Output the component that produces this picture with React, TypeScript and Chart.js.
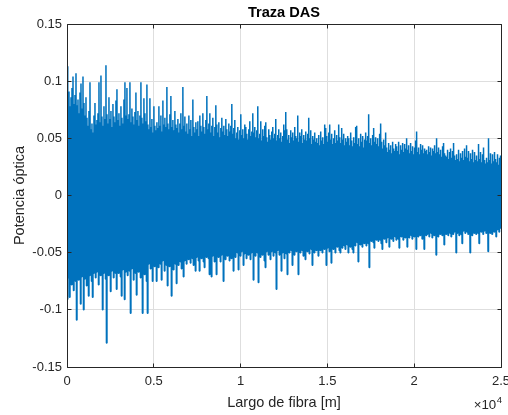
import { useEffect, useRef } from 'react';
import { Chart, registerables } from 'chart.js';

Chart.register(...registerables);

// Fibre length covered by the trace, metres
const FIBER_LENGTH_M = 25000;

const xTicks = [0, 5000, 10000, 15000, 20000, 25000];
const yTicks = [-0.15, -0.1, -0.05, 0, 0.05, 0.1, 0.15];

// Positive excursion of the DAS trace in each range bin
const crestas = [
  0.113, 0.082, 0.091, 0.078, 0.086, 0.094, 0.104, 0.08, 0.088, 0.107,
  0.079, 0.084, 0.072, 0.09, 0.098, 0.076, 0.104, 0.081, 0.07, 0.086,
  0.068, 0.061, 0.074, 0.099, 0.058, 0.063, 0.055, 0.07, 0.081, 0.062,
  0.066, 0.072, 0.099, 0.064, 0.105, 0.069, 0.061, 0.078, 0.067, 0.114,
  0.071, 0.063, 0.086, 0.067, 0.074, 0.06, 0.08, 0.069, 0.064, 0.083,
  0.093, 0.066, 0.072, 0.061, 0.078, 0.068, 0.063, 0.084, 0.099, 0.07,
  0.094, 0.067, 0.071, 0.099, 0.064, 0.076, 0.069, 0.062, 0.073, 0.09,
  0.066, 0.074, 0.061, 0.07, 0.099, 0.068, 0.063, 0.085, 0.072, 0.065,
  0.097, 0.062, 0.058, 0.085, 0.06, 0.067, 0.055, 0.078, 0.061, 0.057,
  0.064, 0.059, 0.078, 0.061, 0.07, 0.056, 0.083, 0.062, 0.068, 0.06,
  0.095, 0.063, 0.058, 0.071, 0.087, 0.06, 0.066, 0.057, 0.074, 0.062,
  0.059, 0.067, 0.055, 0.063, 0.072, 0.058, 0.095, 0.061, 0.069, 0.056,
  0.063, 0.054, 0.07, 0.058, 0.066, 0.052, 0.084, 0.06, 0.055, 0.064,
  0.058, 0.065, 0.052, 0.07, 0.061, 0.056, 0.072, 0.06, 0.054, 0.066,
  0.087, 0.058, 0.063, 0.072, 0.055, 0.061, 0.068, 0.052, 0.06, 0.079,
  0.062, 0.055, 0.064, 0.051, 0.059, 0.068, 0.056, 0.061, 0.053, 0.067,
  0.058, 0.052, 0.063, 0.056, 0.061, 0.08, 0.054, 0.059, 0.066, 0.05,
  0.055, 0.06, 0.049, 0.057, 0.071, 0.053, 0.058, 0.05, 0.062, 0.06,
  0.054, 0.049, 0.058, 0.065, 0.052, 0.056, 0.072, 0.055, 0.06, 0.051,
  0.057, 0.078, 0.05, 0.054, 0.065, 0.048, 0.058, 0.052, 0.061, 0.064,
  0.051, 0.047, 0.058, 0.053, 0.049, 0.056, 0.06, 0.05, 0.054, 0.067,
  0.048, 0.053, 0.058, 0.05, 0.055, 0.047, 0.052, 0.062, 0.057, 0.073,
  0.058, 0.049, 0.053, 0.046, 0.057, 0.051, 0.055, 0.048, 0.06, 0.052,
  0.05, 0.07, 0.047, 0.055, 0.052, 0.058, 0.046, 0.053, 0.049, 0.056,
  0.048, 0.054, 0.068, 0.05, 0.057, 0.045, 0.052, 0.049, 0.055, 0.047,
  0.05, 0.046, 0.053, 0.044, 0.056, 0.048, 0.051, 0.045, 0.062, 0.059,
  0.052, 0.047, 0.055, 0.062, 0.049, 0.054, 0.045, 0.05, 0.057, 0.046,
  0.053, 0.048, 0.062, 0.051, 0.046, 0.059, 0.049, 0.054, 0.044, 0.05,
  0.047, 0.052, 0.05, 0.044, 0.055, 0.048, 0.043, 0.051, 0.046, 0.06,
  0.061, 0.045, 0.05, 0.043, 0.054, 0.047, 0.052, 0.042, 0.049, 0.055,
  0.048, 0.052, 0.071, 0.046, 0.05, 0.044, 0.053, 0.059, 0.047, 0.051,
  0.045, 0.05, 0.043, 0.054, 0.063, 0.047, 0.041, 0.049, 0.044, 0.055,
  0.042, 0.038, 0.046, 0.04, 0.044, 0.037, 0.047, 0.041, 0.039, 0.045,
  0.043, 0.039, 0.047, 0.036, 0.044, 0.04, 0.046, 0.038, 0.045, 0.041,
  0.05, 0.04, 0.044, 0.037, 0.046, 0.039, 0.043, 0.036, 0.042, 0.048,
  0.056, 0.038, 0.042, 0.036, 0.045, 0.04, 0.044, 0.037, 0.041, 0.039,
  0.04, 0.036, 0.043, 0.038, 0.042, 0.035, 0.041, 0.039, 0.044, 0.037,
  0.05, 0.038, 0.042, 0.036, 0.04, 0.034, 0.043, 0.046, 0.037, 0.035,
  0.034, 0.04, 0.032, 0.038, 0.041, 0.033, 0.039, 0.046, 0.035, 0.031,
  0.036, 0.032, 0.04, 0.03, 0.037, 0.033, 0.039, 0.031, 0.041, 0.034,
  0.044, 0.033, 0.039, 0.03, 0.037, 0.032, 0.04, 0.029, 0.038, 0.031,
  0.035, 0.03, 0.045, 0.032, 0.038, 0.029, 0.036, 0.042, 0.031, 0.028,
  0.033, 0.029, 0.05, 0.031, 0.037, 0.028, 0.036, 0.03, 0.038, 0.032,
  0.029, 0.036, 0.027, 0.033, 0.035,
];

// Negative excursion of the DAS trace, half a bin after each crest
const valles = [
  -0.091, -0.072, -0.089, -0.066, -0.078, -0.07, -0.083, -0.064, -0.075, -0.109,
  -0.069, -0.074, -0.065, -0.095, -0.071, -0.067, -0.1, -0.073, -0.068, -0.079,
  -0.066, -0.088, -0.07, -0.064, -0.075, -0.089, -0.068, -0.062, -0.072, -0.067,
  -0.065, -0.078, -0.063, -0.07, -0.066, -0.1, -0.068, -0.061, -0.073, -0.129,
  -0.064, -0.07, -0.06, -0.084, -0.066, -0.062, -0.072, -0.059, -0.068, -0.082,
  -0.063, -0.068, -0.06, -0.071, -0.088, -0.065, -0.062, -0.091, -0.067, -0.061,
  -0.07, -0.062, -0.066, -0.103, -0.064, -0.06, -0.074, -0.063, -0.068, -0.087,
  -0.061, -0.067, -0.059, -0.072, -0.065, -0.103, -0.063, -0.069, -0.058, -0.075,
  -0.103, -0.06, -0.057, -0.064, -0.056, -0.075, -0.059, -0.062, -0.054, -0.075,
  -0.058, -0.063, -0.055, -0.06, -0.074, -0.057, -0.053, -0.066, -0.056, -0.061,
  -0.079, -0.056, -0.062, -0.054, -0.088, -0.058, -0.065, -0.053, -0.06, -0.077,
  -0.055, -0.061, -0.052, -0.058, -0.064, -0.054, -0.071, -0.057, -0.051, -0.06,
  -0.053, -0.056, -0.05, -0.059, -0.052, -0.055, -0.061, -0.049, -0.066, -0.054,
  -0.051, -0.057, -0.066, -0.05, -0.055, -0.048, -0.058, -0.063, -0.052, -0.054,
  -0.05, -0.055, -0.069, -0.048, -0.071, -0.053, -0.047, -0.058, -0.051, -0.069,
  -0.049, -0.054, -0.047, -0.058, -0.052, -0.046, -0.075, -0.05, -0.056, -0.048,
  -0.053, -0.047, -0.057, -0.05, -0.055, -0.046, -0.066, -0.049, -0.054, -0.048,
  -0.05, -0.065, -0.047, -0.053, -0.049, -0.045, -0.061, -0.051, -0.046, -0.055,
  -0.048, -0.052, -0.045, -0.056, -0.05, -0.047, -0.074, -0.049, -0.053, -0.046,
  -0.05, -0.076, -0.047, -0.054, -0.048, -0.052, -0.045, -0.057, -0.063, -0.049,
  -0.046, -0.052, -0.044, -0.056, -0.049, -0.047, -0.053, -0.045, -0.05, -0.082,
  -0.048, -0.044, -0.052, -0.046, -0.066, -0.05, -0.043, -0.055, -0.047, -0.051,
  -0.069, -0.045, -0.05, -0.043, -0.048, -0.061, -0.046, -0.052, -0.044, -0.049,
  -0.047, -0.069, -0.044, -0.05, -0.042, -0.048, -0.053, -0.045, -0.056, -0.043,
  -0.049, -0.044, -0.051, -0.043, -0.047, -0.061, -0.045, -0.05, -0.042, -0.048,
  -0.044, -0.053, -0.042, -0.048, -0.045, -0.05, -0.041, -0.047, -0.043, -0.061,
  -0.046, -0.042, -0.049, -0.044, -0.059, -0.041, -0.047, -0.043, -0.05, -0.04,
  -0.045, -0.041, -0.048, -0.05, -0.042, -0.046, -0.039, -0.044, -0.047, -0.04,
  -0.043, -0.05, -0.039, -0.045, -0.041, -0.047, -0.05, -0.038, -0.044, -0.04,
  -0.041, -0.058, -0.037, -0.043, -0.036, -0.045, -0.039, -0.042, -0.035, -0.044,
  -0.038, -0.042, -0.063, -0.036, -0.04, -0.035, -0.041, -0.046, -0.037, -0.039,
  -0.036, -0.04, -0.034, -0.039, -0.042, -0.047, -0.035, -0.038, -0.033, -0.041,
  -0.037, -0.034, -0.045, -0.032, -0.038, -0.035, -0.04, -0.033, -0.036, -0.039,
  -0.034, -0.038, -0.046, -0.031, -0.036, -0.033, -0.039, -0.032, -0.037, -0.035,
  -0.045, -0.033, -0.037, -0.031, -0.035, -0.038, -0.032, -0.036, -0.034, -0.047,
  -0.033, -0.036, -0.03, -0.035, -0.032, -0.038, -0.034, -0.047, -0.031, -0.035,
  -0.034, -0.031, -0.036, -0.029, -0.033, -0.037, -0.03, -0.035, -0.032, -0.052,
  -0.033, -0.036, -0.03, -0.034, -0.031, -0.035, -0.029, -0.043, -0.032, -0.034,
  -0.031, -0.035, -0.029, -0.033, -0.036, -0.03, -0.034, -0.032, -0.028, -0.05,
  -0.033, -0.03, -0.035, -0.029, -0.034, -0.042, -0.031, -0.028, -0.033, -0.03,
  -0.032, -0.034, -0.029, -0.05, -0.031, -0.035, -0.028, -0.033, -0.03, -0.034,
  -0.03, -0.033, -0.042, -0.029, -0.032, -0.028, -0.034, -0.031, -0.027, -0.033,
  -0.031, -0.049, -0.028, -0.033, -0.03, -0.034, -0.029, -0.032, -0.027, -0.036,
  -0.03, -0.028, -0.032, -0.026, -0.029,
];

const TEXT = '#262626';
const FONT = "'Liberation Sans', Arial, Helvetica, sans-serif";

function buildTrace() {
  const n = Math.min(crestas.length, valles.length);
  const bin = FIBER_LENGTH_M / (n - 0.5);
  const pts: { x: number; y: number }[] = [];
  for (let i = 0; i < n; i++) {
    pts.push({ x: i * bin, y: crestas[i] });
    pts.push({ x: (i + 0.5) * bin, y: valles[i] });
  }
  return pts;
}

const align = (p: number) => Math.round(p - 0.5) + 0.5;

// MATLAB-style box, inward tick marks, titles and the x exponent
const axesDecor = {
  id: 'axesDecor',
  afterDraw(chart: any) {
    const { ctx, chartArea: a, scales } = chart;
    const L = Math.floor(a.left) + 0.5;
    const R = Math.floor(a.right) + 0.5;
    const T = Math.floor(a.top) + 0.5;
    const B = Math.floor(a.bottom) + 0.5;
    const tl = 4;
    ctx.save();
    ctx.strokeStyle = TEXT;
    ctx.lineWidth = 1;
    ctx.beginPath();
    ctx.rect(L, T, R - L, B - T);
    for (const v of xTicks) {
      const p = align(scales.x.getPixelForValue(v));
      ctx.moveTo(p, B);
      ctx.lineTo(p, B - tl);
      ctx.moveTo(p, T);
      ctx.lineTo(p, T + tl);
    }
    for (const v of yTicks) {
      const p = align(scales.y.getPixelForValue(v));
      ctx.moveTo(L, p);
      ctx.lineTo(L + tl, p);
      ctx.moveTo(R, p);
      ctx.lineTo(R - tl, p);
    }
    ctx.stroke();

    const cx = (a.left + a.right) / 2;
    const cy = (a.top + a.bottom) / 2;

    ctx.fillStyle = '#000';
    ctx.font = `bold 14.6px ${FONT}`;
    ctx.textAlign = 'center';
    ctx.textBaseline = 'alphabetic';
    ctx.fillText('Traza DAS', cx, 17);

    ctx.fillStyle = TEXT;
    ctx.font = `14.5px ${FONT}`;
    ctx.fillText('Largo de fibra [m]', cx, 406.5);

    ctx.save();
    ctx.translate(23.5, cy);
    ctx.rotate(-Math.PI / 2);
    ctx.fillText('Potencia óptica', 0, 0);
    ctx.restore();

    ctx.textAlign = 'right';
    ctx.font = `9.5px ${FONT}`;
    const expW = ctx.measureText('4').width;
    ctx.fillText('4', a.right + 1, 402.5);
    ctx.font = `13.3px ${FONT}`;
    ctx.fillText('\u00d710', a.right + 1 - expW - 0.5, 409);
    ctx.restore();
  },
};

export default function App() {
  const ref = useRef<HTMLCanvasElement | null>(null);

  useEffect(() => {
    if (!ref.current) return;
    const chart = new Chart(ref.current, {
      type: 'line',
      data: {
        datasets: [
          {
            data: buildTrace(),
            borderColor: '#0072BD',
            borderWidth: 1.5,
            borderJoinStyle: 'bevel',
            pointRadius: 0,
            tension: 0,
            fill: false,
          },
        ],
      },
      options: {
        responsive: false,
        animation: false,
        parsing: false,
        normalized: true,
        events: [],
        layout: { padding: { top: 24, right: 7, left: 0, bottom: 0 } },
        plugins: {
          legend: { display: false },
          title: { display: false },
          tooltip: { enabled: false },
        },
        scales: {
          x: {
            type: 'linear',
            min: 0,
            max: FIBER_LENGTH_M,
            afterFit: (s: any) => {
              s.height = 48;
              s.paddingLeft = 0;
              s.paddingRight = 0;
            },
            afterBuildTicks: (s: any) => {
              s.ticks = xTicks.map((v) => ({ value: v }));
            },
            ticks: {
              color: TEXT,
              font: { family: FONT, size: 13 },
              padding: 7,
              maxRotation: 0,
              autoSkip: false,
              callback: (v: any) => String(Number(v) / 1e4),
            },
            grid: { color: '#dedede', lineWidth: 1, drawTicks: false },
            border: { display: false },
          },
          y: {
            type: 'linear',
            min: -0.15,
            max: 0.15,
            afterFit: (s: any) => {
              s.width = 67;
              s.paddingTop = 0;
              s.paddingBottom = 0;
            },
            afterBuildTicks: (s: any) => {
              s.ticks = yTicks.map((v) => ({ value: v }));
            },
            ticks: {
              color: TEXT,
              font: { family: FONT, size: 13 },
              padding: 5,
              autoSkip: false,
              callback: (v: any) => String(Math.round(Number(v) * 100) / 100),
            },
            grid: { color: '#dedede', lineWidth: 1, drawTicks: false },
            border: { display: false },
          },
        },
      },
      plugins: [axesDecor],
    });
    return () => chart.destroy();
  }, []);

  return (
    <div style={{ position: 'fixed', left: 0, top: 0, width: 508, height: 415, background: '#fff' }}>
      <canvas ref={ref} width={508} height={415} style={{ display: 'block' }} />
    </div>
  );
}
